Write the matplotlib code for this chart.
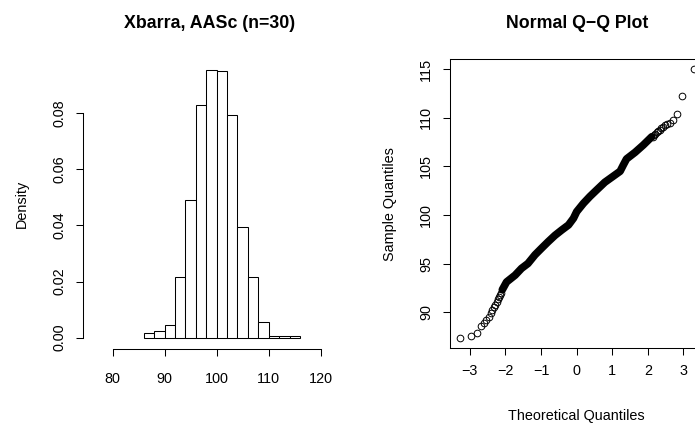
import matplotlib
matplotlib.use('Agg')
from matplotlib import pyplot as plt

plt.rcParams['font.family'] = ['Liberation Sans', 'DejaVu Sans']
plt.rcParams['axes.unicode_minus'] = True

# histograma de Xbarra (densidade por classe de largura 2)
bin_edges = [86, 88, 90, 92, 94, 96, 98, 100, 102, 104, 106, 108, 110, 112, 114, 116]
density = [0.0015, 0.0025, 0.0045, 0.0215, 0.049, 0.083, 0.0955, 0.095,
           0.0795, 0.0395, 0.0215, 0.0055, 0.0005, 0.0005, 0.0005]
hist_xticks = [80, 90, 100, 110, 120]
hist_yticks = [0.00, 0.02, 0.04, 0.06, 0.08]

# Q-Q: caudas (pontos isolados) e faixa central (pontos sobrepostos)
low_theo = [-3.29, -2.97, -2.81, -2.70, -2.61, -2.54, -2.47, -2.42,
            -2.37, -2.33, -2.29, -2.25, -2.21, -2.18, -2.15, -2.12]
low_sample = [87.36, 87.57, 87.85, 88.6, 88.9, 89.2, 89.5, 89.9,
              90.2, 90.5, 90.7, 91.0, 91.3, 91.6, 91.8, 92.0]
mid_theo = [-2.09, -1.97, -1.73, -1.55, -1.37, -1.17, -0.98, -0.80,
            -0.61, -0.42, -0.23, -0.09, 0.0, 0.19, 0.37, 0.56,
            0.79, 1.03, 1.22, 1.31, 1.40, 1.64, 1.87, 2.11]
mid_sample = [92.3, 93.1, 93.8, 94.5, 95.0, 95.9, 96.6, 97.25,
              97.9, 98.45, 98.97, 99.66, 100.34, 101.2, 101.9, 102.57,
              103.37, 104.0, 104.5, 105.15, 105.77, 106.45, 107.2, 108.06]
up_theo = [2.15, 2.18, 2.21, 2.25, 2.29, 2.33, 2.37, 2.42,
           2.47, 2.54, 2.62, 2.70, 2.81, 2.97, 3.29]
up_sample = [108.05, 108.2, 108.35, 108.5, 108.65, 108.8, 108.95, 109.1,
             109.25, 109.35, 109.5, 109.8, 110.37, 112.2, 115.0]
qq_xticks = [-3, -2, -1, 0, 1, 2, 3]
qq_yticks = [90, 95, 100, 105, 110, 115]

W, H = 695, 423
FS = 10.4
TFS = 12.8
LW = 0.75

fig = plt.figure(figsize=(W / 100, H / 100), dpi=100)


def px_box(x0, x1, ytop, ybot):
    """caixa em pixels -> fracoes da figura"""
    return [x0 / W, 1 - ybot / H, (x1 - x0) / W, (ybot - ytop) / H]


def style_ticks(ax):
    ax.tick_params(direction='out', length=5, width=LW, labelsize=FS,
                   colors='black')
    for lab in ax.get_yticklabels():
        lab.set_rotation(90)
        lab.set_va('center')


# ---- painel esquerdo: histograma
ax1 = fig.add_axes(px_box(83.3, 336, 58.6, 349))
ax1.hist(bin_edges[:-1], bins=bin_edges, weights=density,
         color='white', edgecolor='black', linewidth=LW)
ax1.set_xlim(74.35, 122.94)
ax1.set_ylim(-0.00403, 0.0995)
for s in ['top', 'right']:
    ax1.spines[s].set_visible(False)
ax1.spines['left'].set_bounds(0, 0.08)
ax1.spines['bottom'].set_bounds(80, 120)
for s in ['left', 'bottom']:
    ax1.spines[s].set_linewidth(LW)
ax1.set_xticks(hist_xticks)
ax1.set_yticks(hist_yticks)
ax1.set_yticklabels(['%.2f' % v for v in hist_yticks])
style_ticks(ax1)
ax1.tick_params(axis='x', pad=11.7)
ax1.tick_params(axis='y', pad=7)
ax1.set_ylabel('Density', fontsize=FS, labelpad=17)
fig.text(210 / W, 1 - 24 / H, 'Xbarra, AASc (n=30)', ha='center', va='center',
         fontsize=TFS, fontweight='bold')

# ---- painel direito: Q-Q normal
ax2 = fig.add_axes(px_box(450, 703.5, 59.3, 348.3))
# parte central: pontos tao densos que formam uma faixa continua
ax2.plot(mid_theo, mid_sample, '-', color='black', lw=5.5,
         solid_capstyle='round', solid_joinstyle='round')
mk = dict(ls='none', marker='o', mfc='none', mec='black', ms=4.8, mew=0.7)
ax2.plot(low_theo, low_sample, **mk)
ax2.plot(up_theo, up_sample, **mk)
ax2.set_xlim(-3.559, 3.562)
ax2.set_ylim(86.27, 116.03)
for s in ax2.spines.values():
    s.set_linewidth(LW)
ax2.set_xticks(qq_xticks)
ax2.set_yticks(qq_yticks)
style_ticks(ax2)
ax2.tick_params(axis='x', pad=6.4)
ax2.tick_params(axis='y', pad=7)
ax2.set_xlabel('Theoretical Quantiles', fontsize=FS, labelpad=22)
ax2.set_ylabel('Sample Quantiles', fontsize=FS, labelpad=16)
fig.text(576.7 / W, 1 - 23.3 / H, 'Normal Q\u2212Q Plot', ha='center', va='center',
         fontsize=TFS, fontweight='bold')

fig.savefig('out.png', dpi=100)
